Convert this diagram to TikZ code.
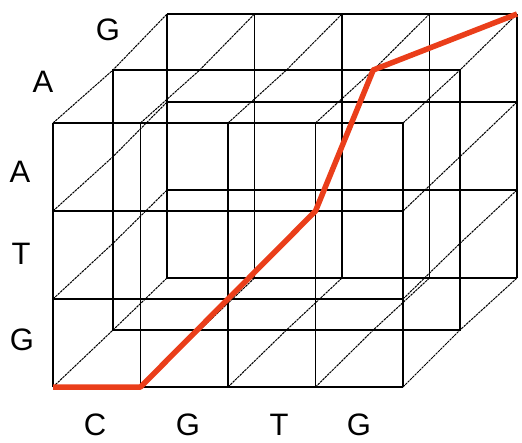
\documentclass[tikz,border=0pt]{standalone}
\usepackage{fontspec}
\setmainfont{Liberation Sans}
\definecolor{pathred}{RGB}{234,62,26}
\begin{document}
\begin{tikzpicture}[x=1pt,y=-1pt,
  gridline/.style={line width=1.9pt,black},
  depthline/.style={line width=1pt,black,dash pattern=on 2.5pt off 0.8pt},
  alignpath/.style={line width=5.5pt,draw=pathred,line join=round},
  lbl/.style={font=\fontsize{31}{31}\selectfont,inner sep=0pt,anchor=center}]
\useasboundingbox (0,0) rectangle (522,442);
\foreach \i in {0,...,4} {
  \foreach \j in {0,...,3} {
    \coordinate (F-\i-\j) at ({53+87.5*\i},{123+88*\j});
    \coordinate (M-\i-\j) at ({113+86.75*\i},{70+86.67*\j});
    \coordinate (B-\i-\j) at ({167+87.5*\i},{14+88*\j});
  }
}
% back face grid
\foreach \j in {0,...,3} \draw[gridline] (B-0-\j) -- (B-4-\j);
\foreach \i in {0,...,4} \draw[gridline] (B-\i-0) -- (B-\i-3);
% middle layer outline
\draw[gridline] (M-0-0) -- (M-4-0) -- (M-4-3) -- (M-0-3) -- cycle;
% depth edges on the surface
\foreach \i in {0,4} {
  \foreach \j in {0,...,3} \draw[depthline] (F-\i-\j) -- (M-\i-\j) -- (B-\i-\j);
}
\foreach \i in {1,2,3} {
  \foreach \j in {0,3} \draw[depthline] (F-\i-\j) -- (M-\i-\j) -- (B-\i-\j);
}
% front face grid
\foreach \j in {0,...,3} \draw[gridline] (F-0-\j) -- (F-4-\j);
\foreach \i in {0,...,4} \draw[gridline] (F-\i-0) -- (F-\i-3);
% alignment path
\draw[alignpath] (F-0-3) -- (F-1-3) -- (F-2-2) -- (F-3-1) -- (M-3-0) -- (B-4-0);
% labels
\node[lbl] (lz2) at (108,30) {G};
\node[lbl] (lz1) at (43,82) {A};
\node[lbl] (ly3) at (20,172) {A};
\node[lbl] (ly2) at (21,254) {T};
\node[lbl] (ly1) at (22,340) {G};
\node[lbl] (lx1) at (95,425) {C};
\node[lbl] (lx2) at (188,425) {G};
\node[lbl] (lx3) at (279,425) {T};
\node[lbl] (lx4) at (359,425) {G};
\end{tikzpicture}
\end{document}
